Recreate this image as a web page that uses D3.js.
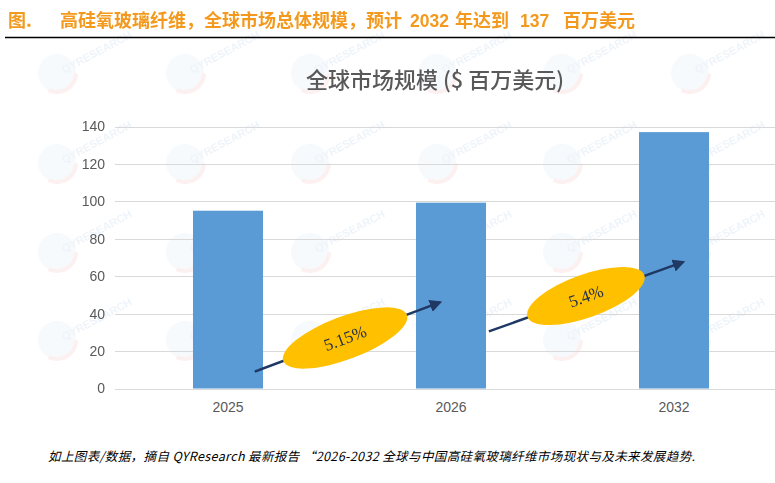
<!DOCTYPE html>
<html><head><meta charset="utf-8">
<script src="https://cdn.jsdelivr.net/npm/d3@7"></script>
<style>html,body{margin:0;padding:0;background:#fff;}svg{display:block;}</style>
</head><body>
<svg id="c" width="775" height="483"></svg>
<script>
// ---- data ----
const categories = ["2025", "2026", "2032"];
const values = [95, 99.3, 137];
const yTicks = [0, 20, 40, 60, 80, 100, 120, 140];
// CAGR annotations in data units: x as fractional category index, y as value
const cagrLabels = ["5.15%", "5.4%"];
const arrowFrom = [[0.12, 9], [1.17, 30.5]];
const arrowTo = [[0.95, 46], [2.04, 67.5]];
const ovalCenter = [[0.525, 27], [1.605, 49.4]];

const headerPrefix = "图.";
const headerText = ["高硅氧玻璃纤维，全球市场总体规模，预计", "2032", "年达到", "137", "百万美元"];
const chartTitle = "全球市场规模 ($ 百万美元)";
const footerText = "如上图表/数据，摘自 QYResearch 最新报告 “2026-2032 全球与中国高硅氧玻璃纤维市场现状与及未来发展趋势.";

const svg = d3.select("#c");
const cjk = "'Noto Sans CJK SC', 'Noto Sans', sans-serif";

// ---- watermarks (decorative) ----
const wm = svg.append("g").attr("opacity", 0.09);
const wmX = [57, 185, 310, 437, 562, 690], wmY = [73, 163, 252, 340];
wmY.forEach(wy => wmX.forEach(wx => {
  const g = wm.append("g").attr("transform", `translate(${wx},${wy})`);
  g.append("circle").attr("r", 19).attr("fill", "#9cc3e6");
  g.append("path").attr("d", d3.arc()({innerRadius: 17, outerRadius: 21, startAngle: 1.6, endAngle: 3.6})).attr("fill", "#e05050");
  g.append("text").attr("transform", "rotate(-28)").attr("x", 6).attr("y", 4)
    .attr("font-family", "Liberation Sans, sans-serif").attr("font-size", 11).attr("font-weight", "bold")
    .attr("fill", "#3a7fc1").text("QYRESEARCH");
}));

// ---- header ----
const hdrX = [60, 410, 455, 520, 563];
const hdr = svg.append("text").attr("y", 27).attr("font-family", cjk)
  .attr("font-size", 18).attr("font-weight", "bold").attr("fill", "#F39A1E");
hdr.append("tspan").attr("x", 8).text(headerPrefix);
headerText.forEach((t, i) => {
  const ts = hdr.append("tspan").attr("x", hdrX[i]).text(t);
  if (i % 2 === 1) ts.attr("font-family", "Liberation Sans, Arial, sans-serif").attr("font-size", 17.5);
});
svg.append("line").attr("x1", 5).attr("x2", 775).attr("y1", 37.5).attr("y2", 37.5)
  .attr("stroke", "#000").attr("stroke-width", 1.6);

// ---- chart title ----
svg.append("text").attr("x", 435).attr("y", 88).attr("text-anchor", "middle")
  .attr("font-family", cjk).attr("font-size", 22).attr("font-weight", 500)
  .attr("fill", "#595959").text(chartTitle);

// ---- scales ----
const y = d3.scaleLinear().domain([0, 140]).range([388.5, 126.5]);
const x = d3.scaleBand().domain(categories).range([116.5, 785.5])
  .paddingInner(0.686).paddingOuter(0.343);
const xi = d3.scaleLinear().domain([0, categories.length - 1])
  .range([x(categories[0]) + x.bandwidth() / 2, x(categories[categories.length - 1]) + x.bandwidth() / 2]);

// gridlines
svg.append("g").selectAll("line").data(yTicks).join("line")
  .attr("x1", 115).attr("x2", 775).attr("y1", d => Math.round(y(d)) + 0.5).attr("y2", d => Math.round(y(d)) + 0.5)
  .attr("stroke", "#D9D9D9").attr("stroke-width", 1);

// y axis labels
const yAxis = d3.axisLeft(y).tickValues(yTicks).tickSize(0).tickPadding(0);
const ya = svg.append("g").attr("transform", "translate(105,0)").call(yAxis);
ya.select(".domain").remove();
ya.selectAll("text").attr("font-family", "Liberation Sans, Arial, sans-serif")
  .attr("font-size", 14).attr("fill", "#595959");

// bars
svg.append("g").selectAll("rect").data(values).join("rect")
  .attr("x", (d, i) => x(categories[i])).attr("width", x.bandwidth())
  .attr("y", d => y(d)).attr("height", d => y(0) - y(d))
  .attr("fill", "#5B9BD5");

// x axis labels
const xAxis = d3.axisBottom(x).tickSize(0).tickPadding(0);
const xa = svg.append("g").attr("transform", "translate(0,402)").call(xAxis);
xa.select(".domain").remove();
xa.selectAll("text").attr("font-family", "Liberation Sans, Arial, sans-serif")
  .attr("font-size", 14).attr("fill", "#595959");

// ---- CAGR annotations ----
const defs = svg.append("defs");
defs.append("marker").attr("id", "ah").attr("viewBox", "0 0 10 10").attr("refX", 8).attr("refY", 5)
  .attr("markerWidth", 5).attr("markerHeight", 5).attr("orient", "auto")
  .append("path").attr("d", "M0,0 L10,5 L0,10 z").attr("fill", "#1F3864");

const ann = svg.append("g");
cagrLabels.forEach((lab, i) => {
  const x1 = xi(arrowFrom[i][0]), y1 = y(arrowFrom[i][1]);
  const x2 = xi(arrowTo[i][0]), y2 = y(arrowTo[i][1]);
  ann.append("line").attr("x1", x1).attr("y1", y1).attr("x2", x2).attr("y2", y2)
    .attr("stroke", "#1F3864").attr("stroke-width", 2.5).attr("marker-end", "url(#ah)");
  const ang = Math.atan2(y2 - y1, x2 - x1) * 180 / Math.PI;
  const cx = xi(ovalCenter[i][0]), cy = y(ovalCenter[i][1]);
  const g = ann.append("g").attr("transform", `translate(${cx},${cy}) rotate(${ang})`);
  g.append("ellipse").attr("rx", i === 0 ? 66 : 62).attr("ry", 21.5).attr("fill", "#FFC000");
  g.append("text").attr("y", 6).attr("text-anchor", "middle")
    .attr("font-family", "'Liberation Serif', 'Times New Roman', serif").attr("font-size", 17)
    .attr("fill", "#1F2D4A").text(lab);
});

// ---- footer ----
svg.append("text").attr("x", 48).attr("y", 461)
  .attr("font-family", cjk).attr("font-size", 12.5).attr("font-style", "italic")
  .attr("fill", "#000").attr("textLength", 647).attr("lengthAdjust", "spacing").text(footerText);
</script>
</body></html>
